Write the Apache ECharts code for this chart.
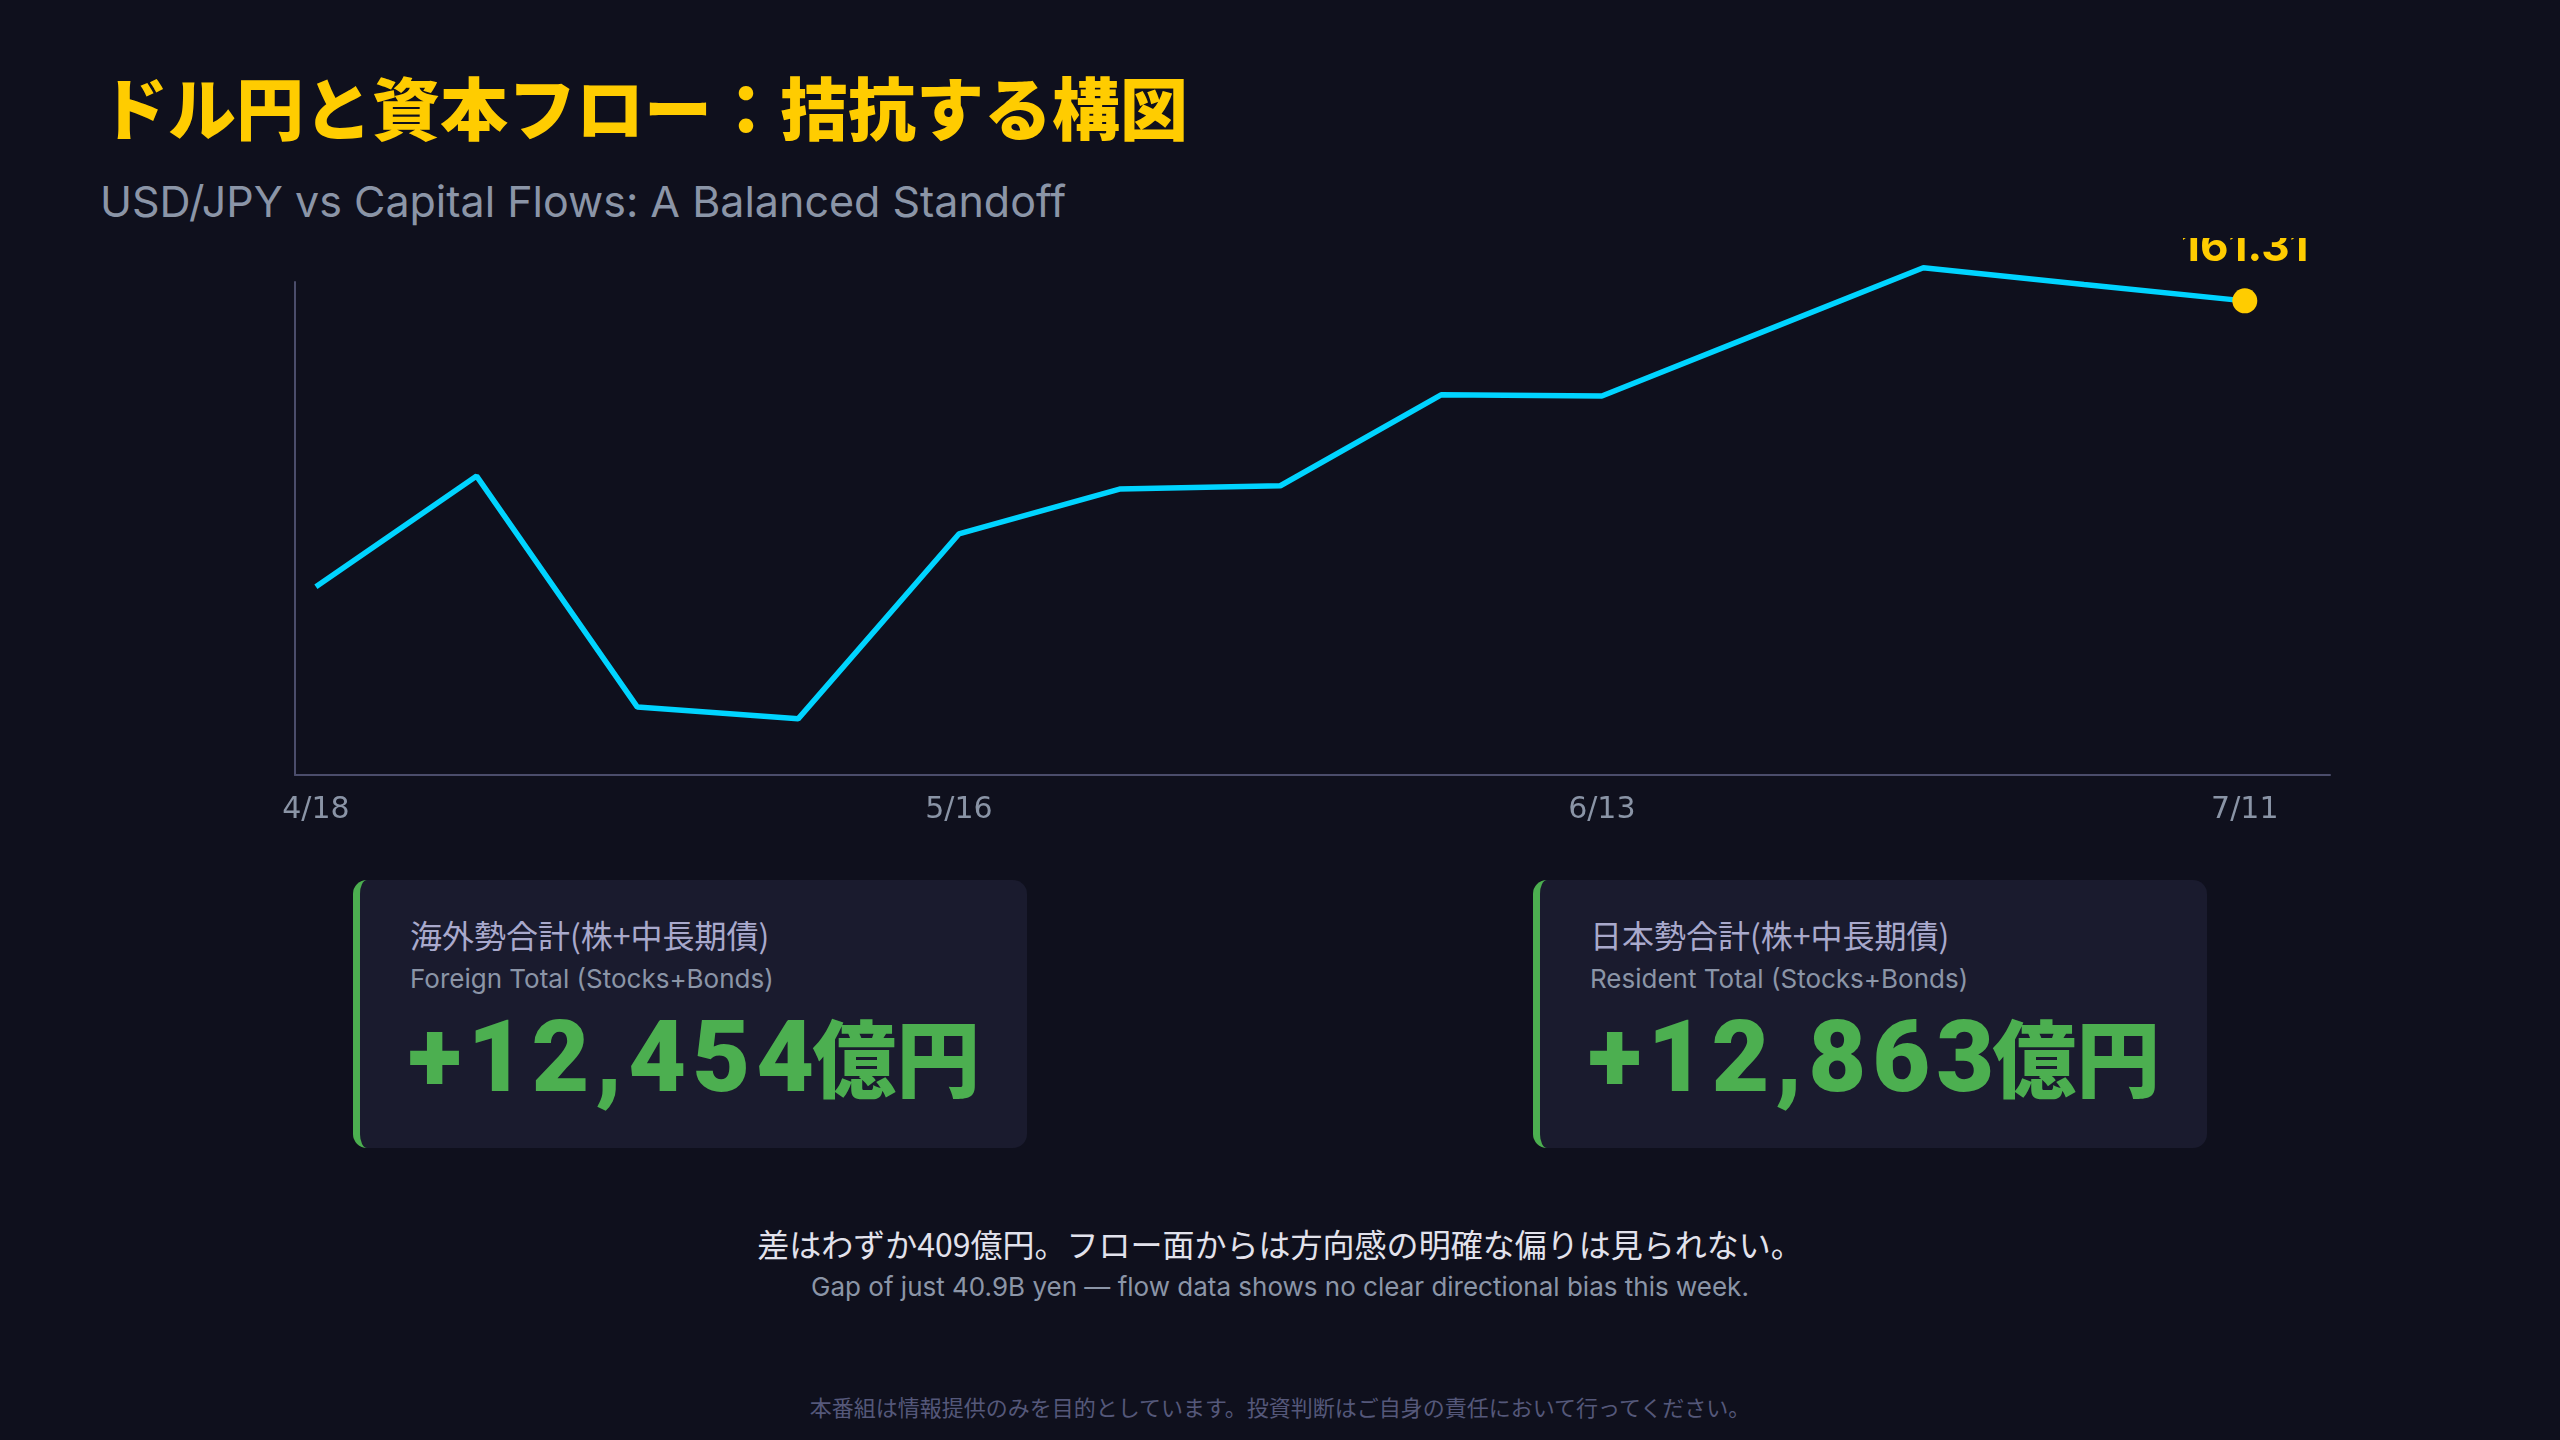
<!DOCTYPE html>
<html lang="ja">
<head>
<meta charset="utf-8">
<title>ドル円と資本フロー</title>
<script src="https://cdn.jsdelivr.net/npm/echarts@6/dist/echarts.min.js"></script>
<style type="text/css">
  html, body {margin:0; padding:0; background:#0f101d; width:2560px; height:1440px; overflow:hidden; font-family:"Inter","Noto Sans CJK JP",sans-serif;}
  .page {position:relative; width:2560px; height:1440px;}
  .title {position:absolute; left:100px; top:72px; font-family:"Noto Sans CJK JP"; font-weight:900; font-size:68px; line-height:68px; color:#ffcc00; white-space:nowrap;}
  .subtitle {position:absolute; left:100px; top:180px; font-size:43px; line-height:43px; color:#8b95a7; white-space:nowrap;}
  #chart {position:absolute; left:0; top:238px; width:2560px; height:600px;}
  .card {position:absolute; top:880px; width:674px; height:268px; background:#1a1b2e; border-left:7px solid #4caf50; border-radius:14px; box-sizing:border-box;}
  .card .jp {position:absolute; left:50px; top:36px; font-family:"Noto Sans CJK JP"; font-size:32px; line-height:36px; color:#a9a9cc; white-space:nowrap;}
  .card .en {position:absolute; left:50px; top:86px; font-size:26px; line-height:26px; color:#8b95a7; white-space:nowrap;}
  .card .num {position:absolute; left:48px; top:125px; line-height:100px; color:#4caf50; white-space:nowrap;}
  .card .num .n {font-family:"Roboto"; font-weight:900; font-size:100px; letter-spacing:6px;}
  .card .num .u {font-family:"Noto Sans CJK JP"; font-weight:900; font-size:84px; margin-left:-8px;}
  .note {position:absolute; left:0; width:2560px; text-align:center; white-space:nowrap;}
  .note1 {top:1225px; font-family:"Noto Sans CJK JP"; font-size:32px; line-height:36px; color:#e2e2ec;}
  .note2 {top:1274px; font-size:26px; line-height:26px; color:#8b95a7;}
  .foot {top:1394px; font-family:"Noto Sans CJK JP"; font-size:22px; line-height:24px; color:#55587a;}
</style>
</head>
<body>
<div class="page">
  <div class="title">ドル円と資本フロー：拮抗する構図</div>
  <div class="subtitle">USD/JPY vs Capital Flows: A Balanced Standoff</div>

  <div id="chart"></div>

  <!-- 海外勢 / 日本勢 -->
  <div class="card" style="left:353px;">
    <div class="jp">海外勢合計(株+中長期債)</div>
    <div class="en">Foreign Total (Stocks+Bonds)</div>
    <div class="num"><span class="n" id="num_foreign"></span><span class="u">億円</span></div>
  </div>
  <div class="card" style="left:1533px;">
    <div class="jp">日本勢合計(株+中長期債)</div>
    <div class="en">Resident Total (Stocks+Bonds)</div>
    <div class="num"><span class="n" id="num_resident"></span><span class="u">億円</span></div>
  </div>

  <div class="note note1">差はわずか409億円。フロー面からは方向感の明確な偏りは見られない。</div>
  <div class="note note2">Gap of just 40.9B yen — flow data shows no clear directional bias this week.</div>
  <div class="note foot">本番組は情報提供のみを目的としています。投資判断はご自身の責任において行ってください。</div>
</div>

<script type="text/javascript">
  // 週次 USD/JPY (チャートから読み取り)
  var weeks = ['4/18', '4/25', '5/2', '5/9', '5/16', '5/23', '5/30', '6/6', '6/13', '6/20', '6/27', '7/4', '7/11'];
  var usdjpy = [154.49, 157.13, 151.62, 151.34, 155.75, 156.82, 156.90, 159.07, 159.04, 160.57, 162.10, 161.70, 161.31];
  var tickIdx = [0, 4, 8, 12];

  // 資本フロー合計 (億円)
  var flowForeign = 12454;
  var flowResident = 12863;

  function fmtFlow(v) {
    return (v >= 0 ? '+' : '') + v.toLocaleString('en-US');
  }
  document.getElementById('num_foreign').textContent = fmtFlow(flowForeign);
  document.getElementById('num_resident').textContent = fmtFlow(flowResident);

  var last = usdjpy.length - 1;
  var chart = echarts.init(document.getElementById('chart'));
  chart.setOption({
    backgroundColor: 'transparent',
    animation: false,
    grid: {left: 295, right: 230, top: 44, bottom: 63},
    xAxis: {
      type: 'value',
      min: -0.13,
      max: 12.53,
      splitLine: {show: false},
      axisTick: {show: false},
      axisLine: {show: true, onZero: false, lineStyle: {color: '#4b4d6b', width: 2}},
      axisLabel: {
        customValues: tickIdx,
        margin: 20,
        fontSize: 30,
        color: '#8a94a6',
        fontFamily: 'DejaVu Sans',
        formatter: function (v) { return weeks[Math.round(v)]; }
      }
    },
    yAxis: {
      type: 'value',
      min: 150,
      max: 161.76,
      splitLine: {show: false},
      axisTick: {show: false},
      axisLabel: {show: false},
      axisLine: {show: true, onZero: false, lineStyle: {color: '#4b4d6b', width: 2}}
    },
    series: [
      {
        type: 'line',
        data: usdjpy.map(function (v, i) { return [i, v]; }),
        symbol: 'none',
        clip: false,
        lineStyle: {color: '#00d4ff', width: 5.5},
        z: 2
      },
      {
        type: 'scatter',
        data: [[last, usdjpy[last]]],
        symbolSize: 25,
        clip: false,
        itemStyle: {color: '#ffcc00', opacity: 1},
        label: {
          show: true,
          position: 'top',
          distance: 19,
          color: '#ffcc00',
          fontSize: 44,
          fontWeight: 'bold',
          fontFamily: 'Inter',
          formatter: function (p) { return p.value[1].toFixed(2); }
        },
        z: 3
      }
    ]
  });
</script>
</body>
</html>
